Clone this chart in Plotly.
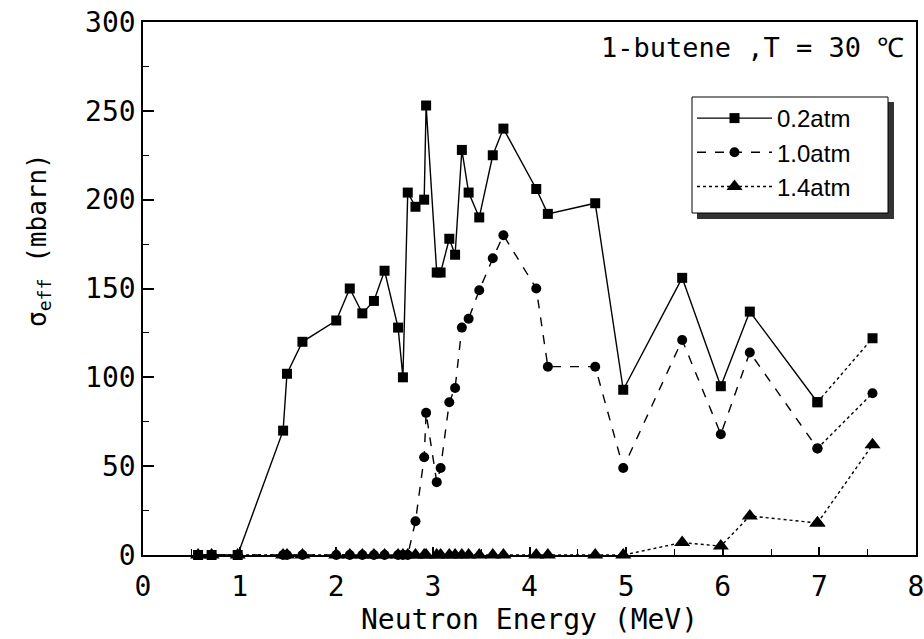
import plotly.graph_objects as go

# ---- data ----
energy = [0.57, 0.71, 0.98, 1.45, 1.49, 1.65, 2.0, 2.14, 2.27, 2.39, 2.5, 2.64, 2.69,
          2.74, 2.82, 2.91, 2.93, 3.04, 3.08, 3.17, 3.23, 3.30, 3.37, 3.48, 3.62, 3.73,
          4.07, 4.19, 4.68, 4.97, 5.58, 5.98, 6.28, 6.98, 7.55]
sig_02 = [0, 0, 0, 70, 102, 120, 132, 150, 136, 143, 160, 128, 100,
          204, 196, 200, 253, 159, 159, 178, 169, 228, 204, 190, 225, 240,
          206, 192, 198, 93, 156, 95, 137, 86, 122]
sig_10 = [0, 0, 0, 0, 0, 0, 0, 0, 0, 0, 0, 0, 0,
          0, 19, 55, 80, 41, 49, 86, 94, 128, 133, 149, 167, 180,
          150, 106, 106, 49, 121, 68, 114, 60, 91]
sig_14 = [0, 0, 0, 0, 0, 0, 0, 0, 0, 0, 0, 0, 0,
          0, 0, 0, 0, 0, 0, 0, 0, 0, 0, 0, 0, 0,
          0, 0, 0, 0, 7, 5, 22, 18, 62]
series_names = ["0.2atm", "1.0atm", "1.4atm"]
x_ticks = [0, 1, 2, 3, 4, 5, 6, 7, 8]
y_ticks = [0, 50, 100, 150, 200, 250, 300]

W, H = 924, 639
L, R, T, B = 143, 8, 22, 84
pw, ph = W - L - R, H - T - B


def px_x(p):
    return (p - L) / pw


def px_y(p):
    return (H - B - p) / ph


fig = go.Figure()
styles = {
    "0.2atm": (sig_02, "solid", "square", 10, 1),
    "1.0atm": (sig_10, "dash", "circle", 10, 2),
    "1.4atm": (sig_14, "dot", "triangle-up", 14, 3),
}
# draw order: circles, triangles, then squares on top
for name in ["1.0atm", "1.4atm", "0.2atm"]:
    vals, dash, sym, ms, rank = styles[name]
    fig.add_trace(go.Scatter(
        x=energy[:-1], y=vals[:-1], mode="lines+markers", name=name, legendrank=rank,
        line=dict(color="black", width=1.4, dash=dash),
        marker=dict(symbol=sym, size=ms, color="black"),
        cliponaxis=False,
    ))
    fig.add_trace(go.Scatter(
        x=energy[-2:], y=vals[-2:], mode="lines+markers", showlegend=False,
        line=dict(color="black", width=1.4, dash="dot"),
        marker=dict(symbol=sym, size=ms, color="black"),
        cliponaxis=False,
    ))

tickfont = dict(family="DejaVu Sans Mono", size=28, color="black")
fig.update_xaxes(
    range=[0, 8], tickvals=x_ticks, ticktext=[str(v) for v in x_ticks],
    ticks="inside", ticklen=8, tickwidth=1.5, tickcolor="black",
    minor=dict(dtick=0.5, ticks="inside", ticklen=6, tickcolor="black", tickwidth=1.2),
    showline=True, linecolor="black", linewidth=1.5, mirror=True,
    showgrid=False, zeroline=False, tickfont=tickfont, automargin=False,
    ticklabelstandoff=6, ticklabeloverflow="allow",
    title=dict(text="Neutron Energy (MeV)", font=dict(family="DejaVu Sans Mono", size=28, color="black"), standoff=7),
)
fig.update_yaxes(
    range=[0, 300], tickvals=y_ticks, ticktext=[str(v) for v in y_ticks],
    ticks="inside", ticklen=11, tickwidth=1.5, tickcolor="black",
    minor=dict(dtick=25, ticks="inside", ticklen=6, tickcolor="black", tickwidth=1.2),
    showline=True, linecolor="black", linewidth=1.5, mirror=True,
    showgrid=False, zeroline=False, tickfont=tickfont, automargin=False,
    ticklabeloverflow="allow",
)

shapes = [
    # legend shadow
    dict(type="rect", xref="paper", yref="paper",
         x0=px_x(697), x1=px_x(894), y0=px_y(219), y1=px_y(102),
         fillcolor="#333333", line=dict(width=0), layer="above"),
    # legend box
    dict(type="rect", xref="paper", yref="paper",
         x0=px_x(692), x1=px_x(888), y0=px_y(213), y1=px_y(97),
         fillcolor="white", line=dict(color="black", width=1), layer="above"),
]

annotations = [
    dict(text="1-butene ,T = 30 ℃", xref="paper", yref="paper",
         x=px_x(906), y=px_y(47), xanchor="right", yanchor="middle",
         showarrow=False, font=dict(family="DejaVu Sans Mono", size=27, color="black")),
    dict(text="σ<sub>eff</sub> (mbarn)", xref="paper", yref="paper",
         x=px_x(38), y=px_y(240), xanchor="center", yanchor="middle", textangle=-90,
         showarrow=False, font=dict(family="DejaVu Sans Mono", size=26, color="black")),
]

fig.update_layout(
    width=W, height=H,
    margin=dict(l=L, r=R, t=T, b=B, autoexpand=False),
    paper_bgcolor="white", plot_bgcolor="white",
    showlegend=True,
    legend=dict(x=px_x(692), y=px_y(96), xanchor="left", yanchor="top",
                bgcolor="rgba(0,0,0,0)", borderwidth=0, itemwidth=75,
                font=dict(family="Liberation Sans", size=24, color="black"),
                tracegroupgap=0),
    shapes=shapes, annotations=annotations,
)

fig.write_html("out.html")
